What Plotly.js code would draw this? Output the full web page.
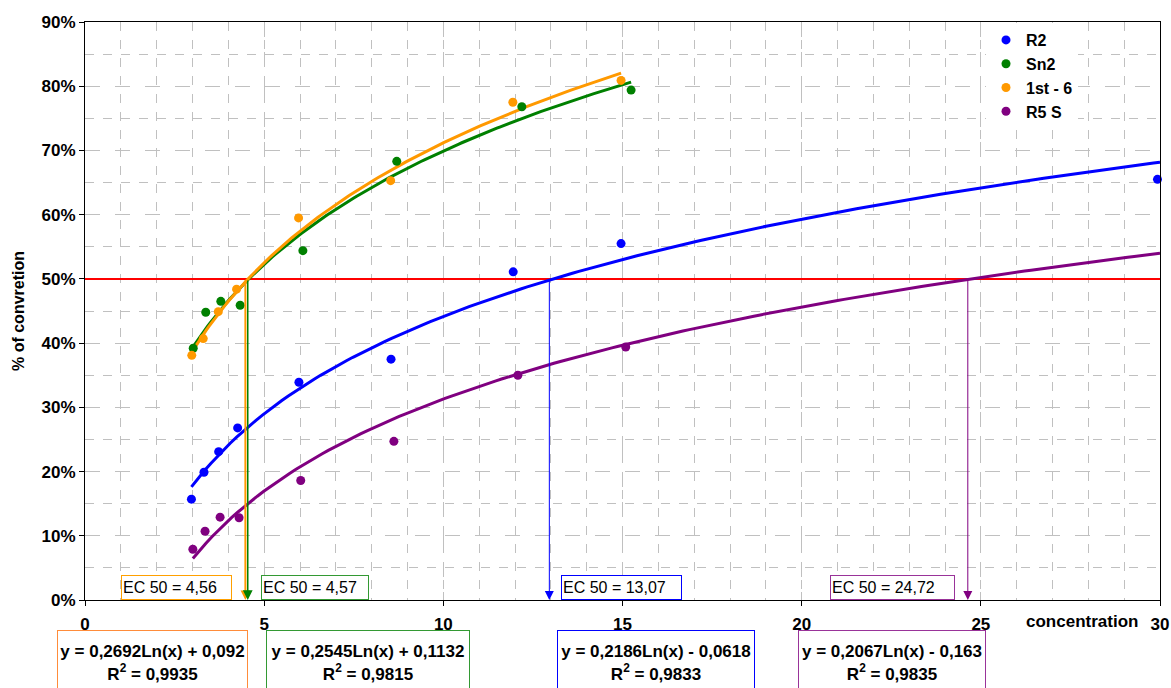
<!DOCTYPE html>
<html>
<head>
<meta charset="utf-8">
<script src="https://cdn.plot.ly/plotly-3.0.1.min.js"></script>
<style>html,body{margin:0;padding:0;background:#fff;}#chart{width:1171px;height:688px;}</style>
</head>
<body>
<div id="chart"></div>
<script>
// ---- data ----
const seriesNames = ["R2", "Sn2", "1st - 6", "R5 S"];
const r2X = [2.97, 3.32, 3.73, 4.26, 5.97, 8.54, 11.95, 14.96, 29.93];
const r2Y = [0.157, 0.199, 0.231, 0.268, 0.339, 0.375, 0.511, 0.555, 0.655];
const sn2X = [3.02, 3.37, 3.79, 4.33, 6.08, 8.70, 12.19, 15.24];
const sn2Y = [0.392, 0.448, 0.465, 0.459, 0.544, 0.683, 0.768, 0.794];
const firstX = [2.98, 3.30, 3.72, 4.23, 5.96, 8.53, 11.94, 14.96];
const firstY = [0.381, 0.407, 0.449, 0.484, 0.595, 0.653, 0.775, 0.809];
const r5X = [3.01, 3.35, 3.77, 4.30, 6.02, 8.62, 12.08, 15.09];
const r5Y = [0.079, 0.107, 0.129, 0.128, 0.186, 0.247, 0.350, 0.394];
// logarithmic trendlines y = a*ln(x) + b (as printed in the chart)
const fitSlope = [0.2186, 0.2545, 0.2692, 0.2067];
const fitIntercept = [-0.0618, 0.1132, 0.092, -0.163];
const fitEndX = [30, 15.24, 14.96, 30];   // trendline extent (R5 S forecast to 30)
const fitSlopeText = ["0,2186", "0,2545", "0,2692", "0,2067"];
const fitInterceptText = ["- 0,0618", "+ 0,1132", "+ 0,092", "- 0,163"];
const rSquaredText = ["0,9833", "0,9815", "0,9935", "0,9835"];
const ec50 = [13.07, 4.57, 4.56, 24.72];
const ec50Text = ["13,07", "4,57", "4,56", "24,72"];
const thresholdLevel = 0.5;
const xTicks = [0, 5, 10, 15, 20, 25, 30];

// ---- styling ----
const colors = ["#0000ff", "#008000", "#ff9900", "#800080"];
const boxColors = ["#0000ff", "#339933", "#ff8c3a", "#993399"];
const ecBoxColors = ["#0000ff", "#339933", "#ffa000", "#993399"];
const xs = [r2X, sn2X, firstX, r5X];
const ys = [r2Y, sn2Y, firstY, r5Y];
const FONT = "Liberation Sans, Arial, sans-serif";

const W = 1171, H = 688, ML = 85, MR = 11, MT = 22, MB = 88;
const PW = W - ML - MR, PH = H - MT - MB;
const px = v => (v - ML) / PW;           // pixel -> paper x
const py = v => (H - MB - v) / PH;       // pixel -> paper y

const traces = [];
// threshold line
traces.push({x: [0, 30], y: [thresholdLevel, thresholdLevel], mode: "lines",
  line: {color: "#ff0000", width: 2}, showlegend: false, hoverinfo: "skip"});

// trend curves
for (let i = 0; i < 4; i++) {
  const xmin = Math.min(...xs[i]), xmax = fitEndX[i];
  const cx = [], cy = [];
  const n = 150;
  for (let k = 0; k <= n; k++) {
    const x = xmin + (xmax - xmin) * k / n;
    cx.push(x); cy.push(fitSlope[i] * Math.log(x) + fitIntercept[i]);
  }
  traces.push({x: cx, y: cy, mode: "lines", line: {color: colors[i], width: 3},
    showlegend: false, hoverinfo: "skip"});
}
// data points
for (let i = 0; i < 4; i++) {
  traces.push({x: xs[i], y: ys[i], mode: "markers", name: seriesNames[i],
    marker: {color: colors[i], size: 9}, cliponaxis: false});
}

const annotations = [];
// EC50 arrows (hand-drawn look: small pixel shifts as in the original)
const arrowW = [1, 1.5, 2, 1];
const arrowS = [1.8, 1.3, 0.95, 1.8];
const arrowShift = [-4, -1, -3, -3];
for (const i of [2, 1, 0, 3]) {
  annotations.push({x: ec50[i], y: 0, xref: "x", yref: "y",
    ax: ec50[i], ay: thresholdLevel, axref: "x", ayref: "y", xshift: arrowShift[i],
    text: "", showarrow: true, arrowhead: 2, arrowsize: arrowS[i],
    arrowwidth: arrowW[i], arrowcolor: colors[i], standoff: 0, startstandoff: 0});
}
// EC50 label boxes (left edge px, width px)
const ecLeft = [561, 260.5, 121, 829.5];
const ecWidth = [121, 108, 111, 125];
for (let i = 0; i < 4; i++) {
  annotations.push({x: px(ecLeft[i]), y: 0, xref: "paper", yref: "paper",
    xanchor: "left", yanchor: "bottom", align: "left",
    text: "EC 50 = " + ec50Text[i], showarrow: false,
    font: {family: FONT, size: 16, color: "#000"},
    bgcolor: "#ffffff", bordercolor: ecBoxColors[i], borderwidth: 1, borderpad: 1,
    width: ecWidth[i] - 4, height: 21});
}
// equation boxes
const eqLeft = [556.5, 266, 57, 797.5];
const eqWidth = [198, 204, 191, 188];
for (let i = 0; i < 4; i++) {
  annotations.push({x: px(eqLeft[i]), y: py(630), xref: "paper", yref: "paper",
    xanchor: "left", yanchor: "top", align: "center", valign: "middle",
    text: "y = " + fitSlopeText[i] + "Ln(x) " + fitInterceptText[i] + "<br>R<sup>2</sup> = " + rSquaredText[i],
    showarrow: false,
    font: {family: FONT, size: 17, color: "#000", weight: "bold"},
    bgcolor: "#ffffff", bordercolor: boxColors[i], borderwidth: 1, borderpad: 1,
    width: eqWidth[i] - 4, height: 62});
}
// axis titles
annotations.push({x: px(1140), y: py(621), xref: "paper", yref: "paper",
  xanchor: "right", yanchor: "middle", text: "concentration", showarrow: false,
  font: {family: FONT, size: 17, color: "#000", weight: "bold"}});
annotations.push({x: px(18), y: py(311), xref: "paper", yref: "paper",
  xanchor: "center", yanchor: "middle", text: "% of convretion", textangle: -90,
  showarrow: false, font: {family: FONT, size: 16, color: "#000", weight: "bold"}});

const gridCol = "#c0c0c0";
const layout = {
  width: W, height: H,
  margin: {l: ML, r: MR, t: MT, b: MB, pad: 0},
  paper_bgcolor: "#ffffff", plot_bgcolor: "#ffffff",
  font: {family: FONT, color: "#000"},
  showlegend: true,
  legend: {x: px(986), y: py(23), xanchor: "left", yanchor: "top",
    bgcolor: "#ffffff", borderwidth: 0, tracegroupgap: 0,
    font: {family: FONT, size: 16, color: "#000", weight: "bold"}},
  xaxis: {range: [0, 30], tickmode: "array", tickvals: xTicks, ticktext: xTicks.map(String),
    ticks: "outside", ticklen: 5, tickcolor: "#000", ticklabelstandoff: 4,
    tickfont: {family: FONT, size: 17, color: "#000", weight: "bold"},
    showline: true, linecolor: "#000", linewidth: 1, mirror: true, zeroline: false,
    showgrid: true, gridcolor: gridCol, gridwidth: 1, griddash: "longdash",
    minor: {dtick: 1, showgrid: true, gridcolor: gridCol, gridwidth: 1, griddash: "dash", ticks: ""}},
  yaxis: {range: [0, 0.9], dtick: 0.1, tick0: 0, tickformat: ".0%",
    ticks: "outside", ticklen: 5, tickcolor: "#000",
    tickfont: {family: FONT, size: 17, color: "#000", weight: "bold"},
    showline: true, linecolor: "#000", linewidth: 1, mirror: true, zeroline: false,
    showgrid: true, gridcolor: gridCol, gridwidth: 1, griddash: "longdash",
    minor: {dtick: 0.05, showgrid: true, gridcolor: gridCol, gridwidth: 1, griddash: "dash", ticks: ""}},
  annotations: annotations
};
Plotly.newPlot("chart", traces, layout, {displayModeBar: false, staticPlot: true});
</script>
</body>
</html>
